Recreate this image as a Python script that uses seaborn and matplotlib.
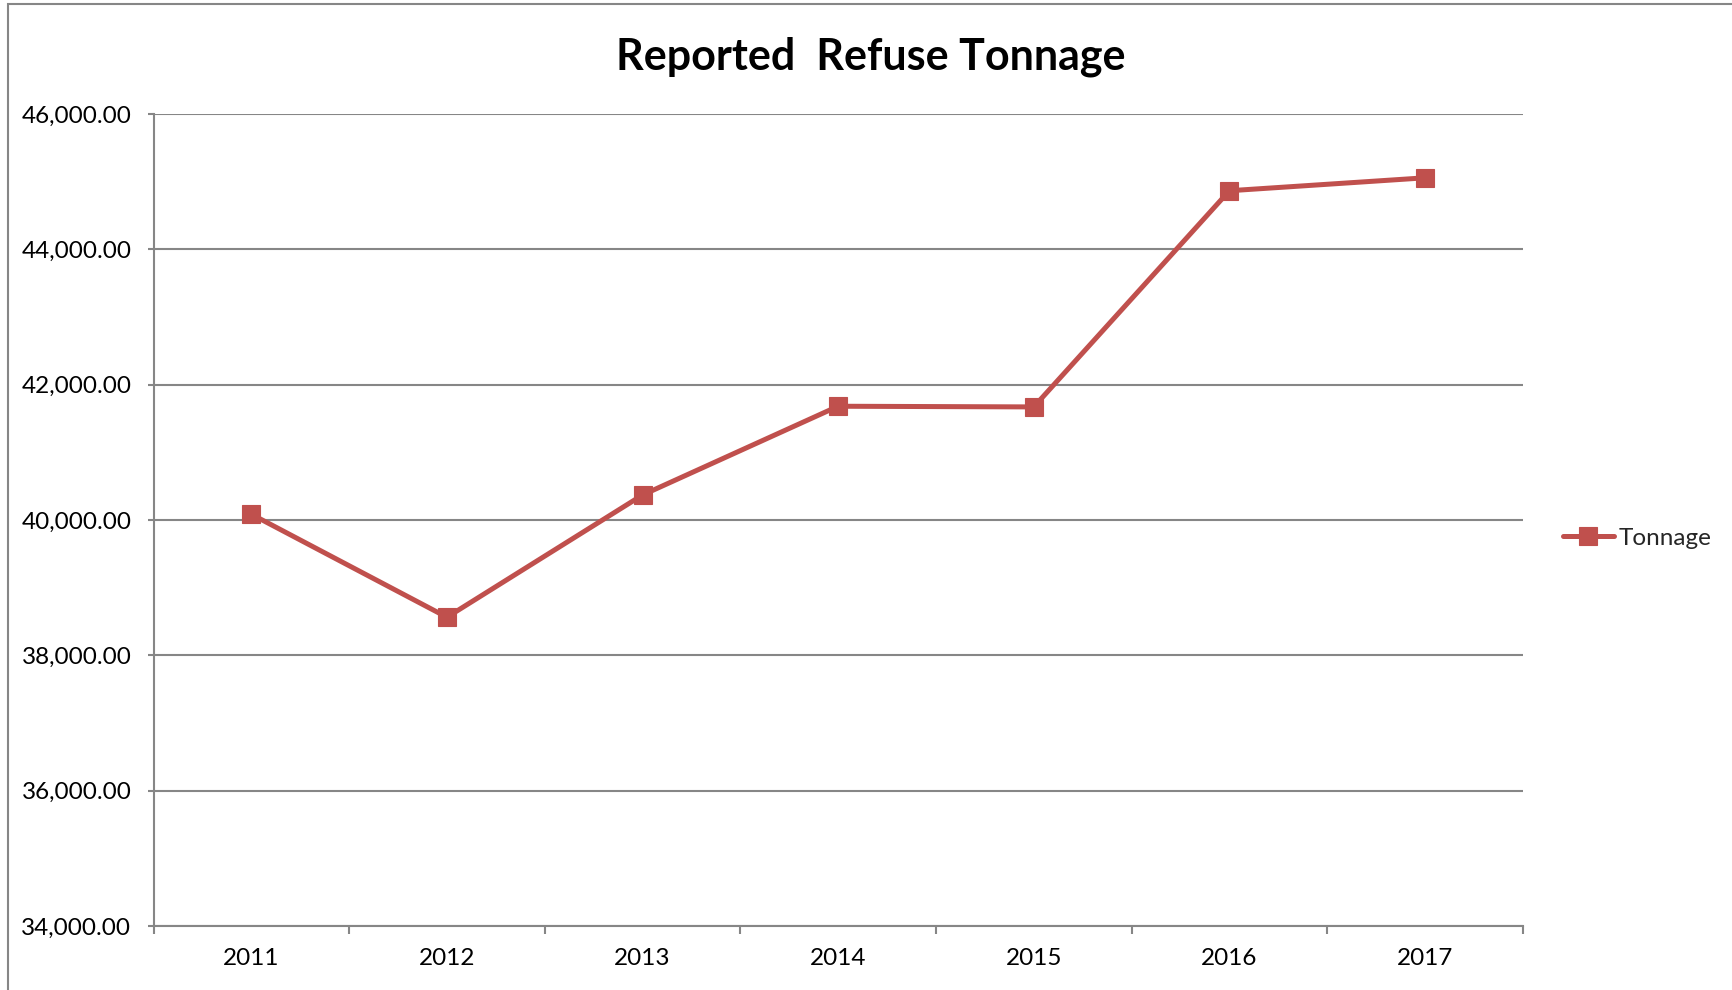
import matplotlib
matplotlib.use("Agg")
import matplotlib.pyplot as plt
import seaborn as sns
import pandas as pd
from matplotlib.patches import Rectangle
from matplotlib.ticker import FuncFormatter, FixedLocator

years = ["2011", "2012", "2013", "2014", "2015", "2016", "2017"]
tonnage = [40084, 38563, 40369, 41680, 41670, 44864, 45055]
y_ticks = [34000, 36000, 38000, 40000, 42000, 44000, 46000]

sns.set_theme(style="white")
plt.rcParams['font.family'] = ['Lato', 'DejaVu Sans']

df = pd.DataFrame({"Year": years, "Tonnage": tonnage})

fig = plt.figure(figsize=(17.33, 9.9), dpi=100)
ax = fig.add_axes([0.0886, 0.0646, 0.7901, 0.8204])

red = "#C0504D"
grid = "#868686"

sns.lineplot(data=df, x="Year", y="Tonnage", ax=ax, color=red, linewidth=3.6,
             marker="s", markersize=13, markeredgecolor=red, markeredgewidth=0.8,
             label="Tonnage", sort=False)

ax.set_xlim(-0.5, len(years) - 0.5)
ax.set_ylim(y_ticks[0], y_ticks[-1])
ax.yaxis.set_major_locator(FixedLocator(y_ticks))
ax.yaxis.set_major_formatter(FuncFormatter(lambda v, p: f"{v:,.2f}"))
ax.grid(axis="y", color=grid, linewidth=1.5)
ax.set_axisbelow(True)

ax.set_xticks([i - 0.5 for i in range(len(years) + 1)])
ax.set_xticklabels([])
ax.set_xticks(range(len(years)), minor=True)
ax.set_xticklabels(years, minor=True)
ax.tick_params(axis="x", which="major", length=5.5, width=1.5, color=grid, direction="out", bottom=True)
ax.tick_params(axis="x", which="minor", length=0, labelsize=17.5, pad=16, labelcolor="black")
ax.tick_params(axis="y", length=4, width=1.5, color=grid, direction="out", left=True, labelsize=17.5, pad=12, labelcolor="black")

for s in ["top", "right"]:
    ax.spines[s].set_visible(False)
for s in ["left", "bottom"]:
    ax.spines[s].set_color(grid)
    ax.spines[s].set_linewidth(1.5)

ax.set_xlabel("")
ax.set_ylabel("")

fig.text(0.5025, 0.943, "Reported  Refuse Tonnage", ha="center", va="center",
         fontsize=31, fontweight="bold", color="black")

leg = ax.legend(loc="center left", bbox_to_anchor=(1.022, 0.4776), frameon=False,
                fontsize=17.5, handlelength=2.1, handletextpad=0.2, borderaxespad=0)

fig.add_artist(Rectangle((8 / 1733, -0.1), 1.2, 1.1 - 4 / 990, transform=fig.transFigure,
                         fill=False, edgecolor=grid, linewidth=1.5))

fig.savefig("out.png", dpi=100)
